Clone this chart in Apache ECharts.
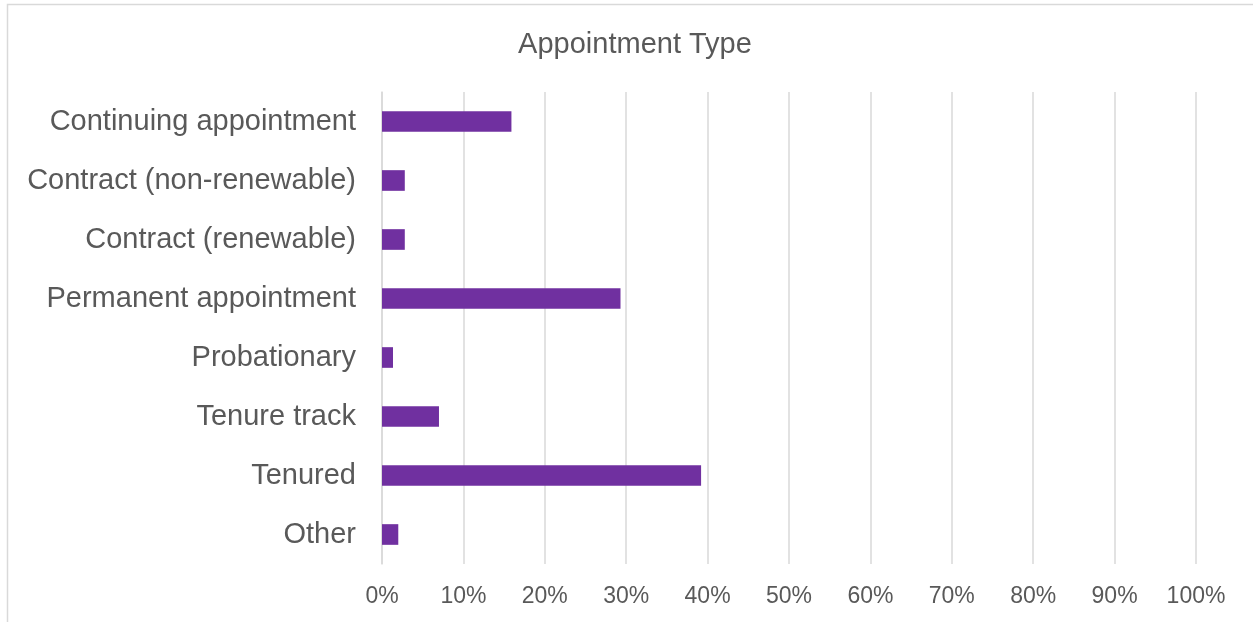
<!DOCTYPE html>
<html>
<head>
<meta charset="utf-8">
<script src="https://cdn.jsdelivr.net/npm/echarts@6/dist/echarts.min.js"></script>
<style>
html,body{margin:0;padding:0;background:#fff;}
#chart{width:1253px;height:622px;}
</style>
</head>
<body>
<div id="chart"></div>
<script>
const titleText = 'Appointment Type';
const categories = [
  'Continuing appointment',
  'Contract (non-renewable)',
  'Contract (renewable)',
  'Permanent appointment',
  'Probationary',
  'Tenure track',
  'Tenured',
  'Other'
];
const values = [15.9, 2.8, 2.8, 29.3, 1.35, 7.0, 39.2, 2.0];
const xTickMin = 0;
const xTickMax = 100;
const xTickStep = 10;

const FONT = "'Liberation Sans', Arial, sans-serif";
const TEXT = '#595959';
const GRID = '#d9d9d9';

const chart = echarts.init(document.getElementById('chart'), null, {renderer: 'canvas'});
chart.setOption({
  animation: false,
  backgroundColor: '#ffffff',
  graphic: [{
    type: 'rect',
    shape: {x: 7.5, y: 4.5, width: 1400, height: 800},
    style: {fill: 'none', stroke: GRID, lineWidth: 1.5},
    silent: true
  }],
  title: {
    text: titleText,
    left: 630,
    textAlign: 'center',
    top: 25,
    textStyle: {fontFamily: FONT, fontSize: 29, fontWeight: 'normal', color: TEXT}
  },
  grid: {left: 382, right: 57, top: 92, bottom: 58, containLabel: false},
  xAxis: {
    type: 'value',
    min: xTickMin,
    max: xTickMax,
    interval: xTickStep,
    axisLine: {show: false},
    axisTick: {show: false},
    axisLabel: {
      formatter: '{value}%',
      fontFamily: FONT, fontSize: 23, color: TEXT, margin: 21
    },
    splitLine: {show: true, lineStyle: {color: GRID, width: 1.5}}
  },
  yAxis: {
    type: 'category',
    data: categories,
    inverse: true,
    axisLine: {show: true, lineStyle: {color: GRID, width: 1.5}},
    axisTick: {show: false},
    axisLabel: {fontFamily: FONT, fontSize: 29, color: TEXT, margin: 26, padding: [3, 0, 0, 0]}
  },
  series: [{
    type: 'bar',
    data: values,
    barWidth: '35%',
    itemStyle: {color: '#7030a0'}
  }]
});
</script>
</body>
</html>
